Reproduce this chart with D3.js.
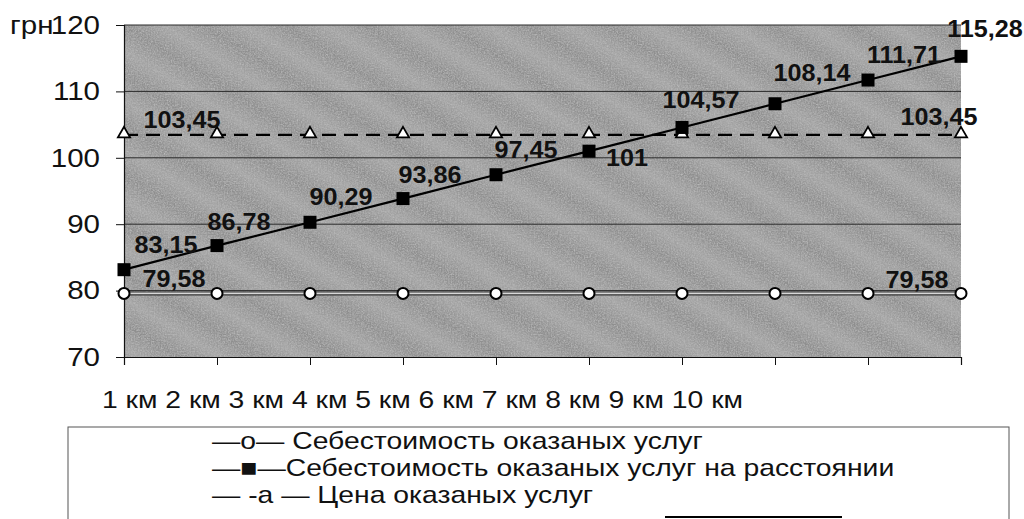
<!DOCTYPE html>
<html>
<head>
<meta charset="utf-8">
<script src="https://cdn.jsdelivr.net/npm/d3@7"></script>
<style>
  body { margin: 0; background: #fff; }
  svg text { font-family: "Liberation Sans", Arial, sans-serif; fill: #111; }
</style>
</head>
<body>
<svg id="chart" width="1024" height="519"></svg>
<script>
// categories and series values
const distances = ["1 км", "2 км", "3 км", "4 км", "5 км", "6 км", "7 км", "8 км", "9 км", "10 км"];
const costBase = [79.58, 79.58, 79.58, 79.58, 79.58, 79.58, 79.58, 79.58, 79.58, 79.58];
const costDistance = [83.15, 86.78, 90.29, 93.86, 97.45, 101, 104.57, 108.14, 111.71, 115.28];
const price = [103.45, 103.45, 103.45, 103.45, 103.45, 103.45, 103.45, 103.45, 103.45, 103.45];
const yTicks = [70, 80, 90, 100, 110, 120];
const legendLabels = [
  "—o— Себестоимость оказаных услуг",
  "—■—Себестоимость оказаных услуг на расстоянии",
  "— -а — Цена оказаных услуг"
];

// label placement (offset of label centre from its point)
const distLabelOffsets = [[42,-25],[22,-24],[31,-26],[27,-24],[30,-25],[38,6],[19,-28],[37,-31],[36,-25],[24,-28]];

// the scanned original is stretched sideways a little
const SX = 1.18, SX_BOLD = 1.05;

const svg = d3.select("#chart");
const x = d3.scalePoint().domain(distances).range([124, 961]);
const y = d3.scaleLinear().domain([70, 120]).range([357, 25]);
const fmt = v => String(v).replace(".", ",");

// put a text at (px,py) and widen it by sx
function stretched(sel, px, py, sx) {
  return sel.attr("x", 0).attr("y", 0)
    .attr("transform", (d, i) => `translate(${px(d, i)},${py(d, i)}) scale(${sx},1)`);
}

// plot background: grey diagonal bands with grain
const defs = svg.append("defs");
const grad = defs.append("linearGradient")
  .attr("id", "bands")
  .attr("gradientUnits", "userSpaceOnUse")
  .attr("spreadMethod", "repeat")
  .attr("x1", 0).attr("y1", 0).attr("x2", 22).attr("y2", -36);
grad.append("stop").attr("offset", "0%").attr("stop-color", "#8e8e8e");
grad.append("stop").attr("offset", "50%").attr("stop-color", "#a4a4a4");
grad.append("stop").attr("offset", "100%").attr("stop-color", "#8e8e8e");

const grain = defs.append("filter").attr("id", "grain")
  .attr("x", 0).attr("y", 0).attr("width", 1).attr("height", 1);
grain.append("feTurbulence")
  .attr("type", "fractalNoise").attr("baseFrequency", 0.7)
  .attr("numOctaves", 2).attr("seed", 3).attr("result", "n");
grain.append("feColorMatrix")
  .attr("in", "n").attr("type", "matrix")
  .attr("values", "0 0 0 0 0.5  0 0 0 0 0.5  0 0 0 0 0.5  0.9 0.9 0.9 0 -1.1")
  .attr("result", "g");
grain.append("feComposite").attr("in", "g").attr("in2", "SourceGraphic").attr("operator", "atop");

svg.append("rect")
  .attr("x", 124).attr("y", 25)
  .attr("width", 837).attr("height", 332)
  .attr("fill", "url(#bands)")
  .attr("filter", "url(#grain)");

// gridlines
svg.append("g")
  .selectAll("line")
  .data(yTicks.filter(d => d > 70))
  .join("line")
  .attr("x1", 124).attr("x2", 961)
  .attr("y1", d => y(d)).attr("y2", d => y(d))
  .attr("stroke", "#2a2a2a").attr("stroke-width", 1);

// y axis (ticks from d3, labels placed by hand so they can be widened)
const yAxis = svg.append("g")
  .attr("transform", "translate(124,0)")
  .call(d3.axisLeft(y).tickValues(yTicks).tickSize(8).tickFormat(""));
yAxis.select(".domain").attr("stroke", "#111").attr("stroke-width", 1.2);
yAxis.selectAll(".tick line").attr("stroke", "#111");

svg.append("g")
  .attr("text-anchor", "end")
  .selectAll("text")
  .data(yTicks)
  .join("text")
  .call(stretched, () => 100, d => y(d), SX)
  .attr("dy", "0.35em")
  .style("font-size", "25px")
  .text(d => d);
svg.append("text")
  .call(stretched, () => 10, () => y(120), SX)
  .attr("dy", "0.35em")
  .style("font-size", "25px")
  .text("грн");

// x axis (ticks only, the labels run as one line below)
const xAxis = svg.append("g")
  .attr("transform", "translate(0,357)")
  .call(d3.axisBottom(x).tickSize(8).tickFormat(""));
xAxis.select(".domain").attr("stroke", "#111").attr("stroke-width", 1.2);
xAxis.selectAll(".tick line").attr("stroke", "#111");

svg.append("text")
  .call(stretched, () => 102, () => 400, SX)
  .attr("dy", "0.35em")
  .style("font-size", "24px")
  .text(distances.join(" "));

const line = d3.line().x((d, i) => x(distances[i])).y(d => y(d));

// series 1: base cost, double thin line with open circles
svg.append("path").datum(costBase)
  .attr("d", line).attr("fill", "none")
  .attr("stroke", "#333").attr("stroke-width", 4);
svg.append("path").datum(costBase)
  .attr("d", line).attr("fill", "none")
  .attr("stroke", "#d8d8d8").attr("stroke-width", 1.6);
svg.append("g").selectAll("circle")
  .data(costBase)
  .join("circle")
  .attr("cx", (d, i) => x(distances[i]))
  .attr("cy", d => y(d))
  .attr("r", 5.5)
  .attr("fill", "#fff").attr("stroke", "#000").attr("stroke-width", 2);

// series 3: price, dashed with open triangles
svg.append("path").datum(price)
  .attr("d", line).attr("fill", "none")
  .attr("stroke", "#000").attr("stroke-width", 2.2)
  .attr("stroke-dasharray", "14,8");
svg.append("g").selectAll("path")
  .data(price)
  .join("path")
  .attr("d", d3.symbol(d3.symbolTriangle, 64))
  .attr("transform", (d, i) => `translate(${x(distances[i])},${y(d) - 1})`)
  .attr("fill", "#fff").attr("stroke", "#000").attr("stroke-width", 1.8);

// series 2: cost with distance, solid with black squares
svg.append("path").datum(costDistance)
  .attr("d", line).attr("fill", "none")
  .attr("stroke", "#000").attr("stroke-width", 2.2);
svg.append("g").selectAll("rect")
  .data(costDistance)
  .join("rect")
  .attr("x", (d, i) => x(distances[i]) - 6.5)
  .attr("y", d => y(d) - 6.5)
  .attr("width", 13).attr("height", 13)
  .attr("fill", "#000");

// data labels
const labels = svg.append("g")
  .style("font-size", "24px").style("font-weight", "bold")
  .attr("text-anchor", "middle");

labels.selectAll("text.dist")
  .data(costDistance)
  .join("text")
  .attr("class", "dist")
  .call(stretched,
    (d, i) => x(distances[i]) + distLabelOffsets[i][0],
    (d, i) => y(d) + distLabelOffsets[i][1], SX_BOLD)
  .attr("dy", "0.35em")
  .text(d => fmt(d));

const endLabels = [
  { v: costBase[0], i: 0, dx: 50, dy: -15 },
  { v: costBase[9], i: 9, dx: -44, dy: -14 },
  { v: price[0], i: 0, dx: 58, dy: -15 },
  { v: price[9], i: 9, dx: -22, dy: -18 }
];
labels.selectAll("text.end")
  .data(endLabels)
  .join("text")
  .attr("class", "end")
  .call(stretched, d => x(distances[d.i]) + d.dx, d => y(d.v) + d.dy, SX_BOLD)
  .attr("dy", "0.35em")
  .text(d => fmt(d.v));

// legend box
svg.append("rect")
  .attr("x", 68).attr("y", 427)
  .attr("width", 941).attr("height", 120)
  .attr("fill", "none").attr("stroke", "#555").attr("stroke-width", 1);

svg.append("g")
  .selectAll("text")
  .data(legendLabels)
  .join("text")
  .call(stretched, () => 212, (d, i) => 441 + i * 27, SX)
  .attr("dy", "0.35em")
  .style("font-size", "24px")
  .text(d => d);

svg.append("line")
  .attr("x1", 665).attr("x2", 842)
  .attr("y1", 517).attr("y2", 517)
  .attr("stroke", "#000").attr("stroke-width", 2);
</script>
</body>
</html>
